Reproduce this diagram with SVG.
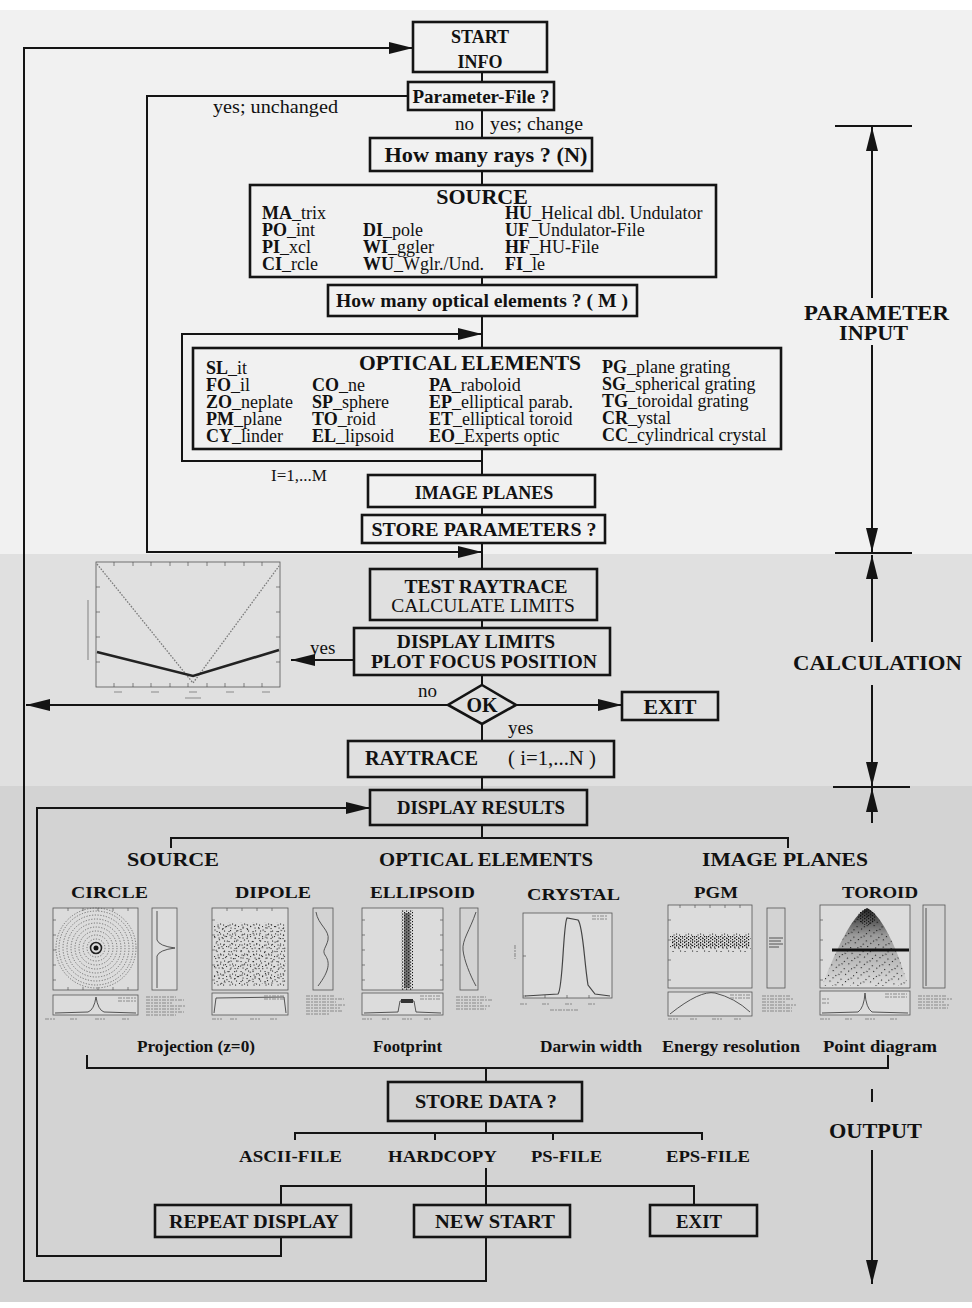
<svg xmlns="http://www.w3.org/2000/svg" width="972" height="1308" viewBox="0 0 972 1308">
<defs>
<style>
.bx{fill:none;stroke:#141414;stroke-width:2.6}
.ln{fill:none;stroke:#141414;stroke-width:2}
.ar{marker-end:url(#ah)}
text{font-family:"Liberation Serif","Times New Roman",serif;fill:#111}
.b{font-weight:bold}
.c{text-anchor:middle}
.ax{fill:#dcdcdc;stroke:#555;stroke-width:0.8}
.ax0{fill:none;stroke:#555;stroke-width:0.8}
.tk{fill:none;stroke:#555;stroke-width:0.7}
.cv{fill:none;stroke:#444;stroke-width:0.9}
.lg{fill:none;stroke:#8a8a8a;stroke-width:1.1;stroke-dasharray:4 1 2 1}
</style>
<marker id="ah" markerWidth="24" markerHeight="12" refX="24" refY="6" orient="auto" markerUnits="userSpaceOnUse"><path d="M0,0 L24,6 L0,12 Z" fill="#141414"/></marker>
<pattern id="sc" width="12" height="10" patternUnits="userSpaceOnUse"><g fill="#333"><rect x="0.5" y="1" width="1.1" height="1.1"/><rect x="4" y="3.5" width="1.1" height="1.1"/><rect x="8" y="0.5" width="1.1" height="1.1"/><rect x="10" y="6" width="1.1" height="1.1"/><rect x="2.5" y="7.5" width="1.1" height="1.1"/><rect x="6.5" y="8" width="1.1" height="1.1"/><rect x="7" y="4.5" width="1.1" height="1.1"/><rect x="1.5" y="4.5" width="1.1" height="1.1"/></g></pattern>
<pattern id="sc2" width="13" height="11" patternUnits="userSpaceOnUse" patternTransform="rotate(17)"><g fill="#222"><rect x="1" y="2" width="1.1" height="1.1"/><rect x="5" y="6" width="1.1" height="1.1"/><rect x="9" y="1" width="1.1" height="1.1"/><rect x="11" y="8" width="1.1" height="1.1"/><rect x="3" y="9" width="1.1" height="1.1"/><rect x="7.5" y="4" width="1.1" height="1.1"/></g></pattern>
<pattern id="scd" width="4" height="3" patternUnits="userSpaceOnUse"><g fill="#111"><rect x="0" y="0" width="1.2" height="1.2"/><rect x="2" y="1.5" width="1.2" height="1.2"/></g></pattern>
<linearGradient id="tg" x1="0" y1="0" x2="0" y2="1"><stop offset="0" stop-color="#000" stop-opacity="0.85"/><stop offset="0.35" stop-color="#000" stop-opacity="0.3"/><stop offset="1" stop-color="#000" stop-opacity="0"/></linearGradient>
</defs>

<g id="background">
<rect x="0" y="0" width="972" height="1308" fill="#ffffff"/>
<rect x="0" y="10" width="972" height="544" fill="#f1f1f1"/>
<rect x="0" y="554" width="972" height="232" fill="#e0e0e0"/>
<rect x="0" y="786" width="972" height="516" fill="#d3d3d3"/>
</g>

<g id="connectors">
<path class="ln ar" d="M486,1237 V1281 H24 V48 H413"/>
<path class="ln ar" d="M408,96 H147 V552 H482"/>
<path class="ln" d="M482,72 V82 M482,110 V138 M482,171 V185 M482,277 V285 M482,316 V348 M482,448 V475 M482,507 V515 M482,543 V568 M482,620 V628 M482,675 V685 M482,723 V741 M482,777 V790"/>
<path class="ln ar" d="M482,461 H182 V334 H482"/>
<path class="ln ar" d="M354,660 H291"/>
<path class="ln ar" d="M448,705 H26"/>
<path class="ln ar" d="M516,705 H622"/>
<path class="ln ar" d="M281,1237 V1256 H37 V808 H370"/>
<path class="ln" d="M482,825 V838 M171,848 V838 H788 V848"/>
<path class="ln" d="M87,1055 V1068 H888 V1055 M486,1068 V1082"/>
<path class="ln" d="M486,1121 V1133 M295,1140 V1133 H702 V1140 M435,1133 V1140 M553,1133 V1140"/>
<path class="ln" d="M486,1168 V1205 M281,1205 V1186 H694 V1205"/>
<!-- side dimension markers -->
<path class="ln" d="M835,126 H912 M835,553 H912 M833,787 H910"/>
<path class="ln ar" d="M872,298 V127"/>
<path class="ln ar" d="M872,345 V552"/>
<path class="ln ar" d="M872,642 V555"/>
<path class="ln ar" d="M872,685 V786"/>
<path class="ln ar" d="M872,823 V788"/>
<path class="ln" d="M872,1089 V1102"/>
<path class="ln ar" d="M872,1150 V1284"/>
</g>

<g id="start"><rect class="bx" x="413" y="22" width="134" height="50"/>
<text class="b c" x="480" y="43" font-size="18">START</text><text class="b c" x="480" y="68" font-size="18">INFO</text></g>

<g id="paramfile"><rect class="bx" x="408" y="82" width="146" height="28"/>
<text class="b c" x="481" y="103" font-size="18" textLength="137" lengthAdjust="spacingAndGlyphs">Parameter-File ?</text></g>
<text x="213" y="113" font-size="19" textLength="125" lengthAdjust="spacingAndGlyphs">yes; unchanged</text>
<text x="455" y="130" font-size="19">no</text>
<text x="490" y="130" font-size="19" textLength="93" lengthAdjust="spacingAndGlyphs">yes; change</text>

<g id="rays"><rect class="bx" x="370" y="138" width="222" height="33"/>
<text class="b c" x="486" y="162" font-size="22" textLength="203" lengthAdjust="spacingAndGlyphs">How many rays ? (N)</text></g>

<g id="source"><rect class="bx" x="250" y="185" width="466" height="92"/>
<text class="b c" x="482" y="204" font-size="22">SOURCE</text>
<g font-size="18">
<text x="262" y="219"><tspan class="b">MA</tspan>_trix</text>
<text x="505" y="219"><tspan class="b">HU</tspan>_Helical dbl. Undulator</text>
<text x="262" y="236"><tspan class="b">PO</tspan>_int</text>
<text x="363" y="236"><tspan class="b">DI</tspan>_pole</text>
<text x="505" y="236"><tspan class="b">UF</tspan>_Undulator-File</text>
<text x="262" y="253"><tspan class="b">PI</tspan>_xcl</text>
<text x="363" y="253"><tspan class="b">WI</tspan>_ggler</text>
<text x="505" y="253"><tspan class="b">HF</tspan>_HU-File</text>
<text x="262" y="270"><tspan class="b">CI</tspan>_rcle</text>
<text x="363" y="270"><tspan class="b">WU</tspan>_Wglr./Und.</text>
<text x="505" y="270"><tspan class="b">FI</tspan>_le</text>
</g></g>

<g id="optcount"><rect class="bx" x="328" y="285" width="309" height="31"/>
<text class="b c" x="482" y="307" font-size="19.5" textLength="292" lengthAdjust="spacingAndGlyphs">How many optical elements ? ( M )</text></g>

<g id="optical"><rect class="bx" x="193" y="348" width="588" height="101"/>
<text class="b" x="359" y="370" font-size="21" textLength="222" lengthAdjust="spacingAndGlyphs">OPTICAL ELEMENTS</text>
<g font-size="18">
<text x="206" y="374"><tspan class="b">SL</tspan>_it</text>
<text x="602" y="373"><tspan class="b">PG</tspan>_plane grating</text>
<text x="206" y="391"><tspan class="b">FO</tspan>_il</text>
<text x="312" y="391"><tspan class="b">CO</tspan>_ne</text>
<text x="429" y="391"><tspan class="b">PA</tspan>_raboloid</text>
<text x="602" y="390"><tspan class="b">SG</tspan>_spherical grating</text>
<text x="206" y="408"><tspan class="b">ZO</tspan>_neplate</text>
<text x="312" y="408"><tspan class="b">SP</tspan>_sphere</text>
<text x="429" y="408"><tspan class="b">EP</tspan>_elliptical parab.</text>
<text x="602" y="407"><tspan class="b">TG</tspan>_toroidal grating</text>
<text x="206" y="425"><tspan class="b">PM</tspan>_plane</text>
<text x="312" y="425"><tspan class="b">TO</tspan>_roid</text>
<text x="429" y="425"><tspan class="b">ET</tspan>_elliptical toroid</text>
<text x="602" y="424"><tspan class="b">CR</tspan>_ystal</text>
<text x="206" y="442"><tspan class="b">CY</tspan>_linder</text>
<text x="312" y="442"><tspan class="b">EL</tspan>_lipsoid</text>
<text x="429" y="442"><tspan class="b">EO</tspan>_Experts optic</text>
<text x="602" y="441"><tspan class="b">CC</tspan>_cylindrical crystal</text>
</g></g>
<text x="271" y="481" font-size="17">I=1,...M</text>

<g id="imageplanes"><rect class="bx" x="368" y="475" width="227" height="32"/>
<text class="b c" x="484" y="499" font-size="18">IMAGE PLANES</text></g>

<g id="storeparams"><rect class="bx" x="362" y="515" width="243" height="28"/>
<text class="b c" x="484" y="536" font-size="19.5" textLength="225" lengthAdjust="spacingAndGlyphs">STORE PARAMETERS ?</text></g>

<g id="testraytrace"><rect class="bx" x="370" y="569" width="227" height="51"/>
<text class="b c" x="486" y="593" font-size="19.5">TEST RAYTRACE</text>
<text class="c" x="483" y="612" font-size="19.5">CALCULATE LIMITS</text></g>

<g id="displaylimits"><rect class="bx" x="354" y="628" width="256" height="47"/>
<text class="b c" x="476" y="648" font-size="19.5">DISPLAY LIMITS</text>
<text class="b c" x="484" y="668" font-size="19.5" textLength="226" lengthAdjust="spacingAndGlyphs">PLOT FOCUS POSITION</text></g>
<text x="310" y="654" font-size="19">yes</text>

<g id="focusplot">
<rect class="ax0" x="96" y="562" width="184" height="125"/>
<path class="tk" d="M114,562v4M133,562v4M151,562v4M170,562v4M188,562v4M207,562v4M225,562v4M244,562v4M262,562v4M114,687v-4M133,687v-4M151,687v-4M170,687v-4M188,687v-4M207,687v-4M225,687v-4M244,687v-4M262,687v-4M96,587h4M96,612h4M96,637h4M96,662h4M280,587h-4M280,612h-4M280,637h-4M280,662h-4"/>
<polyline points="97,564 193,683 279,566" fill="none" stroke="#7a7a7a" stroke-width="1.3" stroke-dasharray="1.6 1.4"/>
<polyline points="97,652 193,676 279,650" fill="none" stroke="#222" stroke-width="2.6"/>
<path d="M114,692h8M151,692h8M189,692h8M226,692h8M262,692h8M185,698h16M88,600v60" stroke="#8a8a8a" stroke-width="1.1" fill="none"/>
</g>

<g id="ok"><polygon points="482,685 516,705 482,724 448,705" fill="none" stroke="#141414" stroke-width="2.6"/>
<text class="b c" x="482" y="712" font-size="20">OK</text></g>
<text x="418" y="697" font-size="19">no</text>
<text x="508" y="734" font-size="19">yes</text>

<g id="exit1"><rect class="bx" x="622" y="692" width="96" height="28"/>
<text class="b c" x="670" y="714" font-size="21" textLength="53" lengthAdjust="spacingAndGlyphs">EXIT</text></g>

<g id="raytrace"><rect class="bx" x="348" y="741" width="266" height="36"/>
<text class="b" x="365" y="765" font-size="20" textLength="113" lengthAdjust="spacingAndGlyphs">RAYTRACE</text>
<text x="508" y="765" font-size="20" textLength="88" lengthAdjust="spacingAndGlyphs">( i=1,...N )</text></g>

<g id="displayresults"><rect class="bx" x="370" y="790" width="217" height="35"/>
<text class="b" x="397" y="814" font-size="19" textLength="168" lengthAdjust="spacingAndGlyphs">DISPLAY RESULTS</text></g>

<g id="resultlabels" class="b">
<text class="b" x="127" y="866" font-size="19" textLength="92" lengthAdjust="spacingAndGlyphs">SOURCE</text>
<text class="b" x="379" y="866" font-size="19" textLength="214" lengthAdjust="spacingAndGlyphs">OPTICAL ELEMENTS</text>
<text class="b" x="702" y="866" font-size="19" textLength="166" lengthAdjust="spacingAndGlyphs">IMAGE PLANES</text>
<text class="b" x="71" y="898" font-size="17" textLength="77" lengthAdjust="spacingAndGlyphs">CIRCLE</text>
<text class="b" x="235" y="898" font-size="17" textLength="76" lengthAdjust="spacingAndGlyphs">DIPOLE</text>
<text class="b" x="370" y="898" font-size="17" textLength="105" lengthAdjust="spacingAndGlyphs">ELLIPSOID</text>
<text class="b" x="527" y="900" font-size="17" textLength="93" lengthAdjust="spacingAndGlyphs">CRYSTAL</text>
<text class="b" x="694" y="898" font-size="17" textLength="44" lengthAdjust="spacingAndGlyphs">PGM</text>
<text class="b" x="842" y="898" font-size="17" textLength="76" lengthAdjust="spacingAndGlyphs">TOROID</text>
<text class="b" x="137" y="1052" font-size="17" textLength="118" lengthAdjust="spacingAndGlyphs">Projection (z=0)</text>
<text class="b" x="373" y="1052" font-size="17" textLength="69" lengthAdjust="spacingAndGlyphs">Footprint</text>
<text class="b" x="540" y="1052" font-size="17" textLength="102" lengthAdjust="spacingAndGlyphs">Darwin width</text>
<text class="b" x="662" y="1052" font-size="17" textLength="138" lengthAdjust="spacingAndGlyphs">Energy resolution</text>
<text class="b" x="823" y="1052" font-size="17" textLength="114" lengthAdjust="spacingAndGlyphs">Point diagram</text>
</g>

<g id="plot-circle">
<rect class="ax" x="53" y="908" width="85" height="82"/>
<path class="tk" d="M53,920h3M53,935h3M53,950h3M53,965h3M53,980h3M68,908v3M83,908v3M98,908v3M113,908v3M128,908v3M68,990v-3M83,990v-3M98,990v-3M113,990v-3M128,990v-3"/>
<g fill="none" stroke="#555" stroke-width="0.8" stroke-dasharray="1.2 1.6"><circle cx="96" cy="948" r="9"/><circle cx="96" cy="948" r="13"/><circle cx="96" cy="948" r="17"/><circle cx="96" cy="948" r="21"/><circle cx="96" cy="948" r="25"/><circle cx="96" cy="948" r="29"/><circle cx="96" cy="948" r="33"/><circle cx="96" cy="948" r="37"/><circle cx="96" cy="948" r="40"/></g>
<circle cx="96" cy="948" r="5.5" fill="none" stroke="#222" stroke-width="1.6"/>
<circle cx="96" cy="948" r="2.5" fill="#111"/>
<rect class="ax" x="152" y="908" width="25" height="82"/>
<path class="cv" d="M157,911 L157,940 Q159,946 175,948 Q159,950 157,956 L157,988"/>
<rect class="ax" x="53" y="995" width="85" height="20"/>
<path class="cv" d="M55,1013 L88,1012 Q94,1010 96,997 Q98,1010 104,1012 L136,1013"/>
<path class="lg" d="M118,998h18M118,1001h18M146,997h30M146,1000h38M146,1003h26M146,1006h40M146,1009h34M146,1012h38M146,1015h30M45,1019h10M70,1019h8M95,1019h10M122,1019h8"/>
</g>

<g id="plot-dipole">
<rect class="ax" x="212" y="908" width="76" height="82"/>
<path class="tk" d="M212,920h3M212,935h3M212,950h3M212,965h3M212,980h3M227,908v3M242,908v3M257,908v3M272,908v3"/>
<rect x="214" y="922" width="72" height="64" fill="url(#sc)"/>
<rect x="214" y="924" width="72" height="60" fill="url(#sc2)"/>
<rect class="ax0" x="313" y="908" width="20" height="82"/>
<path class="cv" d="M316,912 C318,925 330,930 328,940 C326,948 322,950 325,955 C330,962 330,970 318,986"/>
<rect class="ax" x="212" y="993" width="76" height="22"/>
<path class="cv" d="M214,1013 L216,998 L284,997 L286,1013"/>
<path class="lg" d="M264,996h20M264,999h20M306,996h28M306,999h38M306,1002h30M306,1005h40M306,1008h34M306,1011h36M306,1014h24M212,1019h10M230,1019h8M250,1019h10M270,1019h8"/>
</g>

<g id="plot-ellipsoid">
<rect class="ax" x="362" y="908" width="81" height="82"/>
<path class="tk" d="M362,920h3M362,935h3M362,950h3M362,965h3M362,980h3M443,920h-3M443,935h-3M443,950h-3M443,965h-3M443,980h-3"/>
<rect x="401" y="910" width="12" height="80" fill="url(#scd)"/>
<rect x="404" y="913" width="6" height="75" fill="#222" opacity="0.55"/>
<rect class="ax0" x="460" y="908" width="18" height="82"/>
<path class="cv" d="M476,912 C470,930 462,940 463,950 C464,960 470,975 476,986"/>
<rect class="ax" x="362" y="993" width="81" height="22"/>
<path class="cv" d="M364,1013 L398,1012 L400,1001 L414,1001 L416,1012 L441,1013"/>
<rect x="401" y="999" width="12" height="4" fill="#333"/>
<path class="lg" d="M420,996h20M420,999h20M456,997h30M456,1000h36M456,1003h26M456,1006h34M456,1009h30M362,1019h10M382,1019h8M402,1019h10M424,1019h8"/>
</g>

<g id="plot-crystal">
<rect class="ax" x="523" y="913" width="89" height="85"/>
<path class="tk" d="M523,956h3M523,996h3M545,998v-3M567,998v-3M589,998v-3"/>
<path fill="none" stroke="#444" stroke-width="1.2" d="M525,996 L558,994 C563,990 563,925 567,918 L578,920 C583,925 584,960 588,985 L595,994 L610,996"/>
<path class="lg" d="M592,916h16M592,919h16M520,1004h8M542,1004h8M565,1004h8M588,1004h8M550,1010h28M515,945v14"/>
</g>

<g id="plot-pgm">
<rect class="ax" x="668" y="905" width="84" height="83"/>
<path class="tk" d="M668,920h3M668,940h3M668,960h3M668,980h3M680,905v3M695,905v3M710,905v3M725,905v3M740,905v3"/>
<rect x="670" y="932" width="81" height="20" fill="url(#sc)"/>
<rect x="672" y="936" width="78" height="12" fill="url(#scd)"/>
<rect class="ax0" x="767" y="908" width="18" height="80"/>
<path class="cv" d="M769,938h14M769,941h12M769,944h14M769,947h10"/>
<rect class="ax" x="668" y="992" width="84" height="24"/>
<path class="cv" d="M670,1014 Q700,990 715,993 Q735,998 750,1012"/>
<path class="lg" d="M730,995h20M730,998h20M762,996h28M762,999h32M762,1002h24M762,1005h34M762,1008h30M762,1011h30M668,1019h10M690,1019h8M712,1019h10M734,1019h8"/>
</g>

<g id="plot-toroid">
<rect class="ax" x="820" y="905" width="90" height="83"/>
<path class="tk" d="M820,920h3M820,940h3M820,960h3M820,980h3"/>
<path d="M867,908 C852,915 836,950 822,986 L908,986 C898,950 882,915 867,908 Z" fill="url(#sc2)"/>
<path d="M867,908 C852,915 836,950 822,986 L908,986 C898,950 882,915 867,908 Z" fill="url(#tg)"/>
<ellipse cx="867" cy="917" rx="9" ry="8" fill="url(#scd)"/>
<path d="M832,950 H909" stroke="#111" stroke-width="3"/>
<rect class="ax0" x="923" y="905" width="22" height="83"/>
<path class="cv" d="M926,908 V986"/>
<rect class="ax" x="820" y="991" width="90" height="24"/>
<path class="cv" d="M822,1013 L858,1012 Q864,1008 865,993 Q866,1008 872,1012 L908,1013"/>
<path class="lg" d="M885,994h22M885,997h22M822,999h8M822,1003h8M918,996h28M918,999h34M918,1002h26M918,1005h32M918,1008h30M820,1019h10M845,1019h8M865,1019h10M890,1019h8"/>
</g>

<g id="storedata"><rect class="bx" x="388" y="1082" width="194" height="39"/>
<text class="b" x="415" y="1108" font-size="18" textLength="142" lengthAdjust="spacingAndGlyphs">STORE DATA ?</text></g>

<g id="outputs">
<text class="b" x="239" y="1162" font-size="17" textLength="103" lengthAdjust="spacingAndGlyphs">ASCII-FILE</text>
<text class="b" x="388" y="1162" font-size="17" textLength="109" lengthAdjust="spacingAndGlyphs">HARDCOPY</text>
<text class="b" x="531" y="1162" font-size="17" textLength="71" lengthAdjust="spacingAndGlyphs">PS-FILE</text>
<text class="b" x="666" y="1162" font-size="17" textLength="84" lengthAdjust="spacingAndGlyphs">EPS-FILE</text>
</g>

<g id="repeat"><rect class="bx" x="155" y="1205" width="196" height="32"/>
<text class="b" x="169" y="1228" font-size="18" textLength="170" lengthAdjust="spacingAndGlyphs">REPEAT DISPLAY</text></g>
<g id="newstart"><rect class="bx" x="414" y="1205" width="156" height="32"/>
<text class="b" x="435" y="1228" font-size="18" textLength="120" lengthAdjust="spacingAndGlyphs">NEW START</text></g>
<g id="exit2"><rect class="bx" x="650" y="1205" width="107" height="31"/>
<text class="b" x="676" y="1228" font-size="18" textLength="46" lengthAdjust="spacingAndGlyphs">EXIT</text></g>

<g id="phases">
<text class="b" x="804" y="320" font-size="21" textLength="145" lengthAdjust="spacingAndGlyphs">PARAMETER</text>
<text class="b" x="839" y="340" font-size="21" textLength="69" lengthAdjust="spacingAndGlyphs">INPUT</text>
<text class="b" x="793" y="670" font-size="20" textLength="169" lengthAdjust="spacingAndGlyphs">CALCULATION</text>
<text class="b" x="829" y="1138" font-size="21" textLength="93" lengthAdjust="spacingAndGlyphs">OUTPUT</text>
</g>
</svg>
